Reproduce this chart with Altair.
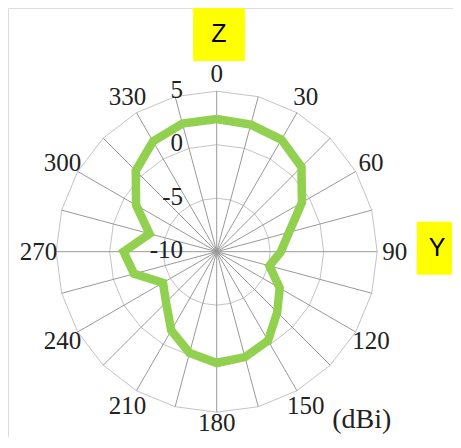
import altair as alt
import pandas as pd

# ---- data ----
angles = list(range(0, 360, 15))
gain_dbi = [2.4, 2.3, 2.1, 1.2, -0.8, -3.0, -4.0, -4.9, -3.2, -2.0, -0.4, 0.2,
            0.4, -0.2, -1.5, -3.3, -4.2, -2.0, -1.3, -3.5, -1.3, 0.7, 1.9, 2.4]
ring_levels = [-5, 0, 5]
radial_tick_values = [-10, -5, 0, 5]
angle_label_values = list(range(0, 360, 30))
R_MIN = -10

# ---- layout constants ----
W, H = 445, 429
K = 10.7          # pixels per dB
CX, CY = 208.7, 243.7
xdom = [-CX / K, (W - CX) / K]
ydom = [-(H - CY) / K, CY / K]

curve_df = pd.DataFrame({
    "angle": angles + [angles[0]],
    "gain": gain_dbi + [gain_dbi[0]],
    "order": list(range(len(angles) + 1)),
})

ring_rows = []
for lv in ring_levels:
    for i, a in enumerate(angles + [angles[0]]):
        ring_rows.append({"level": lv, "angle": a, "order": i})
ring_df = pd.DataFrame(ring_rows)

spoke_df = pd.DataFrame({"angle": angles, "level": [max(ring_levels)] * len(angles)})
alabel_df = pd.DataFrame({"angle": angle_label_values,
                          "text": [str(a) for a in angle_label_values]})
rlabel_df = pd.DataFrame({"value": radial_tick_values,
                          "text": [str(v) for v in radial_tick_values]})

xs = alt.Scale(domain=xdom, nice=False, zero=False)
ys = alt.Scale(domain=ydom, nice=False, zero=False)

def polar(r_field, a_field="angle"):
    return {
        "x": f"({r_field} - ({R_MIN})) * sin(datum.{a_field} * PI / 180)",
        "y": f"({r_field} - ({R_MIN})) * cos(datum.{a_field} * PI / 180)",
    }

rings = alt.Chart(ring_df).transform_calculate(
    **polar("datum.level")
).mark_line(color="#c4c4c4", strokeWidth=1).encode(
    x=alt.X("x:Q", scale=xs, axis=None),
    y=alt.Y("y:Q", scale=ys, axis=None),
    detail="level:N",
    order="order:Q",
)

spokes = alt.Chart(spoke_df).transform_calculate(
    x0="0", y0="0", **polar("datum.level")
).mark_rule(color="#999999", strokeWidth=1).encode(
    x=alt.X("x0:Q", scale=xs, axis=None),
    y=alt.Y("y0:Q", scale=ys, axis=None),
    x2="x:Q",
    y2="y:Q",
)

curve = alt.Chart(curve_df).transform_calculate(
    **polar("datum.gain")
).mark_line(color="#92D050", strokeWidth=8.5, strokeJoin="miter").encode(
    x=alt.X("x:Q", scale=xs, axis=None),
    y=alt.Y("y:Q", scale=ys, axis=None),
    order="order:Q",
)

alabels = alt.Chart(alabel_df).transform_calculate(
    r="datum.angle == 180 ? 16.0 : 16.65",
    x="datum.r * sin(datum.angle * PI / 180)",
    y="datum.r * cos(datum.angle * PI / 180)",
).mark_text(font="Liberation Serif", fontSize=25, color="#222222",
            baseline="middle", align="center").encode(
    x=alt.X("x:Q", scale=xs, axis=None),
    y=alt.Y("y:Q", scale=ys, axis=None),
    text="text:N",
)

rlabels = alt.Chart(rlabel_df).transform_calculate(
    x="-3.15",
    y=f"datum.value - ({R_MIN}) + 0.12",
).mark_text(font="Liberation Serif", fontSize=25, color="#222222",
            baseline="middle", align="right").encode(
    x=alt.X("x:Q", scale=xs, axis=None),
    y=alt.Y("y:Q", scale=ys, axis=None),
    text="text:N",
)

box_df = pd.DataFrame({
    "name": ["Z", "Y"],
    "x1": [-2.21, 18.7], "x2": [2.64, 22.0],
    "y1": [17.82, -2.15], "y2": [22.87, 2.8],
    "tx": [0.21, 20.6],
})
boxes = alt.Chart(box_df).mark_rect(color="#FFFF00").encode(
    x=alt.X("x1:Q", scale=xs, axis=None), x2="x2:Q",
    y=alt.Y("y1:Q", scale=ys, axis=None), y2="y2:Q",
)
box_text = alt.Chart(box_df).transform_calculate(
    cy="(datum.y1 + datum.y2) / 2",
).mark_text(font="Liberation Sans", fontSize=25, color="#000000",
            baseline="middle", align="center").encode(
    x=alt.X("tx:Q", scale=xs, axis=None),
    y=alt.Y("cy:Q", scale=ys, axis=None),
    text="name:N",
)

unit_df = pd.DataFrame({"x": [13.55], "y": [-15.75], "text": ["(dBi)"]})
unit = alt.Chart(unit_df).mark_text(font="Liberation Serif", fontSize=28,
                                    color="#222222", baseline="middle",
                                    align="center").encode(
    x=alt.X("x:Q", scale=xs, axis=None),
    y=alt.Y("y:Q", scale=ys, axis=None),
    text="text:N",
)

chart = alt.layer(rings, spokes, curve, alabels, rlabels, boxes, box_text, unit).properties(
    width=W, height=H,
    autosize=alt.AutoSizeParams(type="none"),
    padding=0,
).configure_view(strokeWidth=0, stroke="transparent", clip=False).configure(background="white")

chart.save("out.html", embed_options={"renderer": "svg", "actions": False})
